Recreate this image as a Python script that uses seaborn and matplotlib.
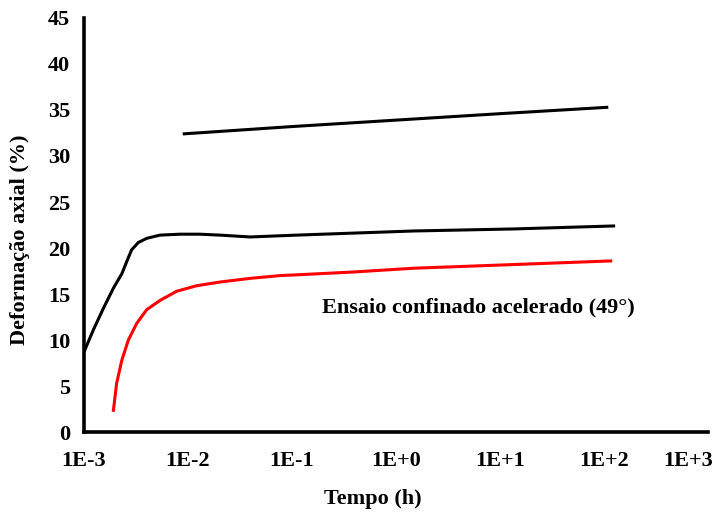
import matplotlib
matplotlib.use("Agg")
import matplotlib.pyplot as plt
import matplotlib.transforms as mtransforms
import seaborn as sns
import pandas as pd

# Creep curves: axial strain (%) vs. time (h)
t_upper = [0.0089, 0.1, 1.0, 10.0, 110.0]
y_upper = [32.4, 33.2, 33.9, 34.6, 35.3]

t_middle = [0.001, 0.00123, 0.00153, 0.00191, 0.00231, 0.00257, 0.00287,
            0.00333, 0.00401, 0.00538, 0.00838, 0.013, 0.0203, 0.0395,
            0.111, 1.47, 13.4, 128.0]
y_middle = [8.7, 11.1, 13.4, 15.6, 17.2, 18.5, 19.8,
            20.6, 21.05, 21.4, 21.5, 21.5, 21.4, 21.2,
            21.4, 21.85, 22.07, 22.4]

t_accel = [0.00191, 0.00206, 0.00231, 0.00267, 0.00321, 0.00401, 0.00538,
           0.00778, 0.01213, 0.0203, 0.0395, 0.0767, 0.119, 0.4,
           1.47, 13.4, 120.0]
y_accel = [2.2, 5.3, 7.8, 10.0, 11.8, 13.3, 14.3,
           15.3, 15.9, 16.3, 16.7, 17.0, 17.1, 17.4,
           17.8, 18.2, 18.6]

x_ticks = [1e-3, 1e-2, 1e-1, 1e0, 1e1, 1e2, 1e3]
x_tick_labels = ["1E-3", "1E-2", "1E-1", "1E+0", "1E+1", "1E+2", "1E+3"]
y_ticks = [0, 5, 10, 15, 20, 25, 30, 35, 40, 45]

sns.set_style("white")
plt.rcParams["font.family"] = ["Liberation Serif", "DejaVu Serif"]
plt.rcParams["font.weight"] = "bold"
plt.rcParams["text.color"] = "black"
plt.rcParams["axes.labelcolor"] = "black"

FS = 16

fig = plt.figure(figsize=(7.18, 5.12), dpi=100)
ax = fig.add_axes([84 / 718, 80 / 512, 624 / 718, 414 / 512])

df_upper = pd.DataFrame({"t": t_upper, "y": y_upper})
df_middle = pd.DataFrame({"t": t_middle, "y": y_middle})
df_accel = pd.DataFrame({"t": t_accel, "y": y_accel})

line_kw = dict(linewidth=2.2, sort=False, solid_capstyle="butt", solid_joinstyle="round")
sns.lineplot(data=df_upper, x="t", y="y", ax=ax, color="black", **line_kw)
sns.lineplot(data=df_middle, x="t", y="y", ax=ax, color="black", **line_kw)
sns.lineplot(data=df_accel, x="t", y="y", ax=ax, color="#ff0000", **line_kw)

ax.set_xscale("log")
ax.set_xlim(1e-3, 1e3)
ax.set_ylim(0, 45)
ax.set_xticks(x_ticks)
ax.set_xticklabels(x_tick_labels)
ax.minorticks_off()
ax.set_yticks(y_ticks)
ax.set_yticklabels([str(v) for v in y_ticks])

for side in ["top", "right"]:
    ax.spines[side].set_visible(False)
for side in ["left", "bottom"]:
    ax.spines[side].set_linewidth(2.6)
    ax.spines[side].set_color("black")

ax.tick_params(axis="x", direction="inout", length=9, width=2.2, pad=9,
               labelsize=FS, colors="black")
ax.tick_params(axis="y", length=0, pad=10, labelsize=FS, colors="black")
for lbl in ax.get_xticklabels() + ax.get_yticklabels():
    lbl.set_fontweight("bold")

# keep the last decade label inside the figure
last = ax.get_xticklabels()[-1]
last.set_horizontalalignment("right")
last.set_transform(last.get_transform() +
                   mtransforms.ScaledTranslation(5 / 100, 0, fig.dpi_scale_trans))

ax.set_xlabel("Tempo (h)", fontsize=FS, fontweight="bold")
ax.xaxis.set_label_coords((373 - 84) / 624, (432 - 489) / 414)
ax.set_ylabel("Deformação axial (%)", fontsize=FS, fontweight="bold")
ax.yaxis.set_label_coords((30 - 84) / 624, (432 - 240) / 414)

ax.text(0.194, 13.5, "Ensaio confinado acelerado (49°)", fontsize=FS,
        fontweight="bold", ha="left", va="center", color="black")

fig.savefig("out.png", dpi=100)
